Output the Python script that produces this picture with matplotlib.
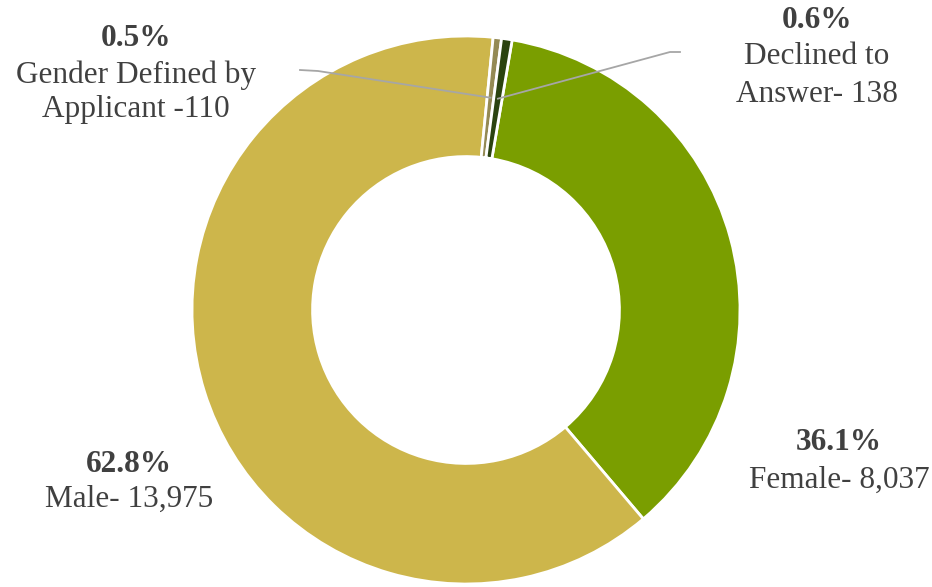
import numpy as np
import matplotlib.pyplot as plt

# data
categories = ['Female', 'Male', 'Gender Defined by Applicant', 'Declined to Answer']
counts = [8037, 13975, 110, 138]
pct_labels = ['36.1%', '62.8%', '0.5%', '0.6%']
text_labels = [['Female- 8,037'], ['Male- 13,975'],
               ['Gender Defined by', 'Applicant -110'], ['Declined to', 'Answer- 138']]
colors = ['#7A9E00', '#CDB64B', '#948A54', '#2B4310']

W, H = 932, 587
CX, CY, R = 466, 310, 274

def px(x, y):
    # pixel -> data coords
    return (x - CX) / R, (CY - y) / R

fig = plt.figure(figsize=(W / 100, H / 100), dpi=100)
ax = fig.add_axes([0, 0, 1, 1])
x0, y0 = px(0, H)
x1, y1 = px(W, 0)

inner = 0.56
wedges, _ = ax.pie(counts, colors=colors, startangle=80.3, counterclock=False,
                   radius=1, wedgeprops=dict(width=1 - inner, edgecolor='white', linewidth=2))
ax.set_xlim(x0, x1)
ax.set_ylim(y0, y1)
ax.set_aspect('equal')
ax.axis('off')

font = 'Liberation Serif'
tcol = '#404040'
fs = 22.5

# label positions (pixels): x centre, y of each line
label_pos = {
    0: (839, [440, 478]),
    1: (129, [462, 497]),
    2: (136, [37, 73, 107]),
    3: (817, [18, 55, 92]),
}
for i, (x, ys) in label_pos.items():
    ax.text(*px(x, ys[0] + 2), pct_labels[i], ha='center', va='center', fontsize=fs,
            fontweight='bold', color=tcol, family=font)
    for line, y in zip(text_labels[i], ys[1:]):
        ax.text(*px(x, y + 2), line, ha='center', va='center', fontsize=fs,
                color=tcol, family=font)

# leader lines for the two small slices
leaders = {2: [(300, 70), (318, 71)], 3: [(680, 52), (670, 52)]}
for i, pts in leaders.items():
    w = wedges[i]
    ang = np.deg2rad((w.theta1 + w.theta2) / 2)
    rm = (1 + inner) / 2
    sx, sy = rm * np.cos(ang), rm * np.sin(ang)
    xs = [px(*p)[0] for p in pts] + [sx]
    ys = [px(*p)[1] for p in pts] + [sy]
    ax.plot(xs, ys, color='#A6A6A6', linewidth=1.3)

fig.savefig('out.png', dpi=100)
